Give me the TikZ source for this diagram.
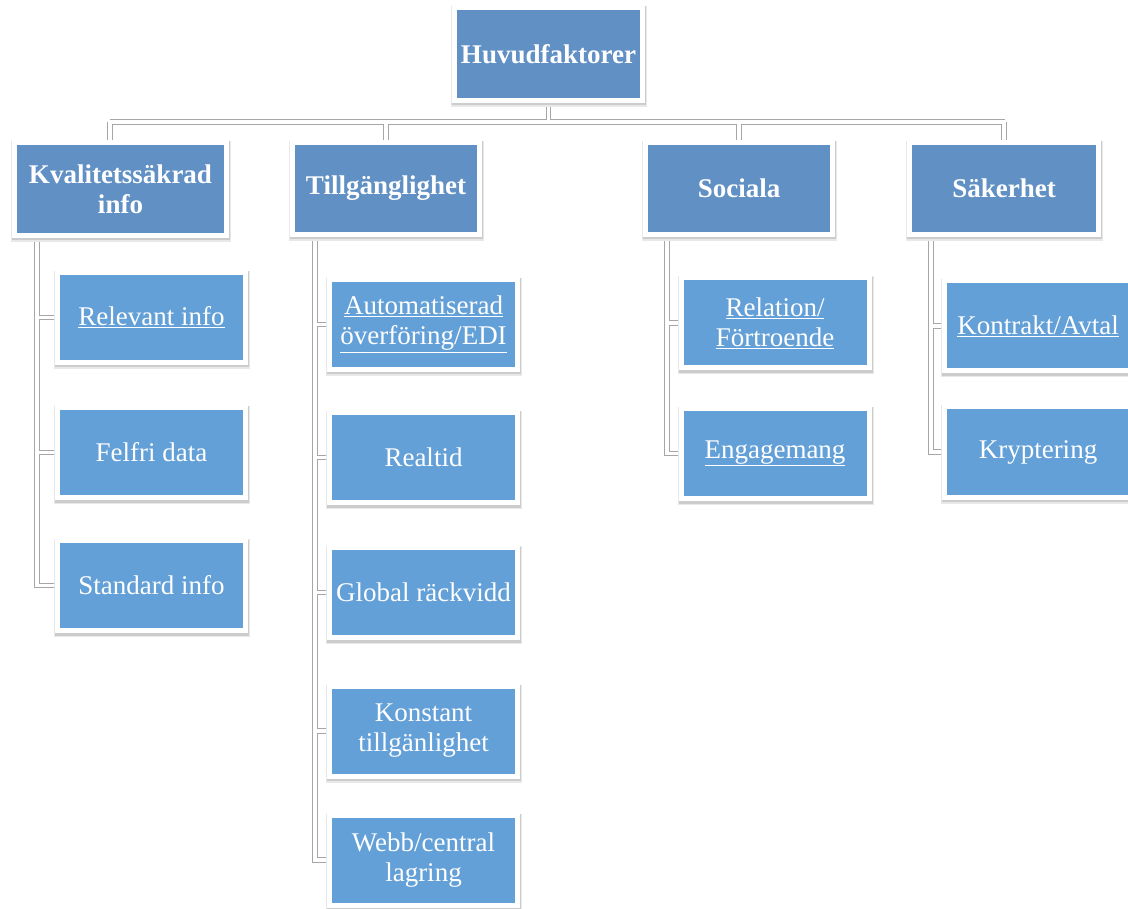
\documentclass[tikz,border=0pt]{standalone}
\usepackage{fontspec}
\setmainfont{Liberation Serif}
\usepackage{tikz}

\definecolor{headblue}{RGB}{96,144,196}
\definecolor{itemblue}{RGB}{100,160,216}
\pgfdeclarelayer{bg}
\pgfsetlayers{bg,main}

\tikzset{
  box/.style={draw=white, line width=5pt, text=white, align=center,
    font=\fontsize{27}{30}\selectfont,
    preaction={draw=black!9, fill=black!9, line width=8pt,
      transform canvas={xshift=0.5pt, yshift=-2.5pt}},
    preaction={draw=black!20, fill=black!20, line width=6pt,
      transform canvas={xshift=0.5pt, yshift=-2pt}}},
  head/.style={box, fill=headblue, font=\fontsize{27}{30}\selectfont\bfseries},
  item/.style={box, fill=itemblue, minimum width=188pt, minimum height=90pt},
  conn/.style={draw=gray!70, double=white, double distance=3.5pt, line width=1.2pt}
}

\begin{document}
\begin{tikzpicture}[x=1pt, y=-1pt]
    \useasboundingbox (0,0) rectangle (1128,909);
    % top
    \node[head, minimum width=188pt, minimum height=93pt] (huvud) at (548.5,54) {Huvudfaktorer};
    % main groups
    \node[head, minimum width=212pt, minimum height=93pt] (kval) at (120.5,189) {Kvalitetssäkrad\\info};
    \node[head, minimum width=187pt, minimum height=92pt] (till) at (386,188.5) {Tillgänglighet};
    \node[head, minimum width=187pt, minimum height=92pt] (soc)  at (739,188.5) {Sociala};
    \node[head, minimum width=189pt, minimum height=92pt] (sak)  at (1004,188.5) {Säkerhet};
    % items
    \node[item] (rel)    at (151.5,317.5) {\underline{Relevant info}};
    \node[item] (felfri) at (151.5,452.5) {Felfri data};
    \node[item] (std)    at (151.5,585.5) {Standard info};
    \node[item] (auto)   at (423.5,324.5) {\underline{Automatiserad}\\\underline{överföring/EDI}};
    \node[item] (real)   at (423.5,457.5) {Realtid};
    \node[item] (global) at (423.5,592.5) {Global räckvidd};
    \node[item] (konst)  at (423.5,731)   {Konstant\\tillgänlighet};
    \node[item] (webb)   at (423.5,860)   {Webb/central\\lagring};
    \node[item] (relat)  at (775,323)     {\underline{Relation/}\\\underline{Förtroende}};
    \node[item] (engag)  at (775,453.5)   {\underline{Engagemang}};
    \node[item] (kontr)  at (1038,326)    {\underline{Kontrakt/Avtal}};
    \node[item] (krypt)  at (1038,452)    {Kryptering};
    % connectors
    \begin{pgfonlayer}{bg}
    \coordinate (bus) at (548.5,122);
    \draw[conn] (huvud.south) -- (bus)
      (110,122) -- (1005,122)
      (110,122) -- (kval.north -| 110,0)
      (bus -| till.north) -- (till.north)
      (bus -| soc.north) -- (soc.north)
      (bus -| sak.north) -- (sak.north);
    \draw[conn] ([xshift=25pt]kval.south west) |- (rel.west)
      ([xshift=25pt]kval.south west) |- (felfri.west)
      ([xshift=25pt]kval.south west) |- (std.west);
    \draw[conn] ([xshift=25pt]till.south west) |- (auto.west)
      ([xshift=25pt]till.south west) |- (real.west)
      ([xshift=25pt]till.south west) |- (global.west)
      ([xshift=25pt]till.south west) |- (konst.west)
      ([xshift=25pt]till.south west) |- (webb.west);
    \draw[conn] ([xshift=24pt]soc.south west) |- (relat.west)
      ([xshift=24pt]soc.south west) |- (engag.west);
    \draw[conn] ([xshift=24pt]sak.south west) |- (kontr.west)
      ([xshift=24pt]sak.south west) |- (krypt.west);
    \end{pgfonlayer}
\end{tikzpicture}
\end{document}
